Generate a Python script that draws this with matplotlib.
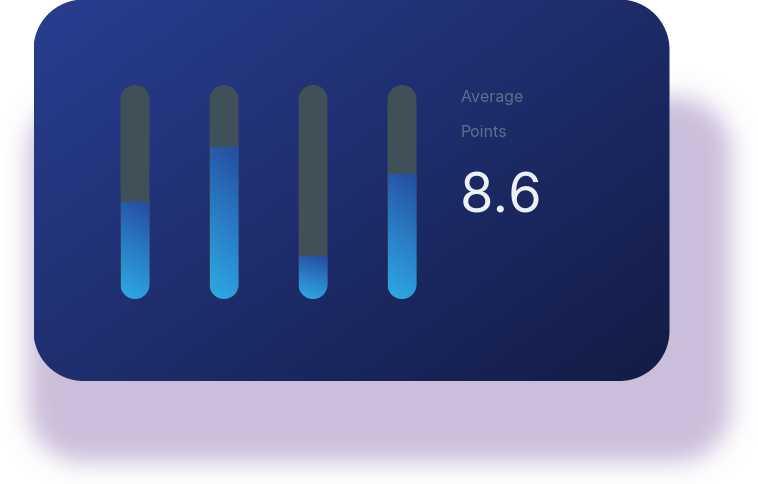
import numpy as np
import matplotlib
matplotlib.use('Agg')
import matplotlib.pyplot as plt
from matplotlib.patches import PathPatch
from matplotlib.path import Path
from matplotlib.colors import LinearSegmentedColormap

# data
categories = ['A', 'B', 'C', 'D']
values = [4.5, 7.1, 2.0, 5.8]
max_value = 10
title_lines = ['Average', 'Points']
average_label = '8.6'

W, H = 758, 485
fig = plt.figure(figsize=(W / 100, H / 100), dpi=100)
fig.patch.set_facecolor('white')

# background axes in pixel units (y down)
bg = fig.add_axes([0, 0, 1, 1])
bg.set_xlim(0, W)
bg.set_ylim(H, 0)
bg.axis('off')

yy, xx = np.mgrid[0:H, 0:W] + 0.5


def rounded_mask(x0, y0, x1, y1, r):
    cx = np.clip(xx, x0 + r, x1 - r)
    cy = np.clip(yy, y0 + r, y1 - r)
    return (np.hypot(xx - cx, yy - cy) <= r).astype(float)


def blur(a, sigma):
    k = np.arange(-3 * sigma, 3 * sigma + 1)
    k = np.exp(-k ** 2 / (2.0 * sigma ** 2))
    k /= k.sum()
    a = np.apply_along_axis(lambda r: np.convolve(r, k, mode='same'), 1, a)
    a = np.apply_along_axis(lambda c: np.convolve(c, k, mode='same'), 0, a)
    return a


def round_rect(x0, y0, x1, y1, rx, ry):
    # rounded rectangle made of circular arcs (y axis up)
    parts = [(270, 360, x1 - rx, y0 + ry), (0, 90, x1 - rx, y1 - ry),
             (90, 180, x0 + rx, y1 - ry), (180, 270, x0 + rx, y0 + ry)]
    verts, codes = [], []
    for a0, a1, cx, cy in parts:
        arc = Path.arc(a0, a1)
        verts.append(arc.vertices * [rx, ry] + [cx, cy])
        c = arc.codes.copy()
        c[0] = Path.MOVETO if not codes else Path.LINETO
        codes.append(c)
    verts.append([verts[0][0]])
    codes.append([Path.CLOSEPOLY])
    return Path(np.concatenate(verts), np.concatenate(codes))


# purple shadow
alpha = blur(rounded_mask(28, 98, 731, 463, 55), 12)
shadow = np.zeros((H, W, 4))
shadow[..., 0] = 203 / 255
shadow[..., 1] = 190 / 255
shadow[..., 2] = 218 / 255
shadow[..., 3] = np.clip(alpha, 0, 1)
bg.imshow(shadow, extent=(0, W, H, 0), origin='upper', interpolation='bilinear', zorder=1)

# card with diagonal gradient
cx0, cy0, cx1, cy1 = 33.5, 0.5, 669.5, 382
card = PathPatch(round_rect(cx0, cy0, cx1, cy1, 50, 50), fc='none', ec='none', zorder=2)
bg.add_patch(card)
gu, gv = np.meshgrid(np.linspace(0, 1, 300), np.linspace(0, 1, 200))
card_t = 0.55 * gu + 0.45 * gv
card_cmap = LinearSegmentedColormap.from_list('card', ['#283E90', '#1E2D6C', '#131C45'])
im = bg.imshow(card_t, cmap=card_cmap, extent=(cx0, cx1, cy1, cy0), origin='upper',
               aspect='auto', interpolation='bilinear', zorder=2)
im.set_clip_path(card)

# text
bg.text(461, 101.7, title_lines[0], fontsize=11.5, color='#5E7089', va='baseline', ha='left',
        family='Inter', zorder=5)
bg.text(461, 136.7, title_lines[1], fontsize=11.5, color='#5E7089', va='baseline', ha='left',
        family='Inter', zorder=5)
bg.text(460, 213, average_label, fontsize=39, color='#EEF1F4', va='baseline', ha='left',
        family='Inter', zorder=5)

# bars axes
left_px, right_px, top_px, bottom_px = 90.5, 446.5, 86, 300
ax = fig.add_axes([left_px / W, (H - bottom_px) / H, (right_px - left_px) / W,
                   (bottom_px - top_px) / H])
ax.axis('off')
ax.patch.set_alpha(0)

px_x = (right_px - left_px) / len(categories)
px_y = (bottom_px - top_px) / max_value
bar_w = 29 / px_x
rx = 14.5 / px_x
ry = 14.5 / px_y

fill_cmap = LinearSegmentedColormap.from_list('fill', ['#254C9E', '#2A7DC5', '#2DAAE4'])
fu, fv = np.meshgrid(np.linspace(0, 1, 30), np.linspace(0, 1, 120))

for i, v in enumerate(values):
    track = PathPatch(round_rect(i - bar_w / 2, 0, i + bar_w / 2, max_value, rx, ry),
                      fc='#3F5058', ec='none', zorder=1)
    ax.add_patch(track)
    t = 0.85 * fv + 0.15 * (1 - fu)
    fim = ax.imshow(t, cmap=fill_cmap, vmin=0, vmax=1, origin='upper',
                    extent=(i - bar_w / 2, i + bar_w / 2, 0, v),
                    aspect='auto', interpolation='bilinear', zorder=2)
    fim.set_clip_path(track)

ax.set_xlim(-0.5, len(categories) - 0.5)
ax.set_ylim(0, max_value)

fig.savefig('out.png', dpi=100)
